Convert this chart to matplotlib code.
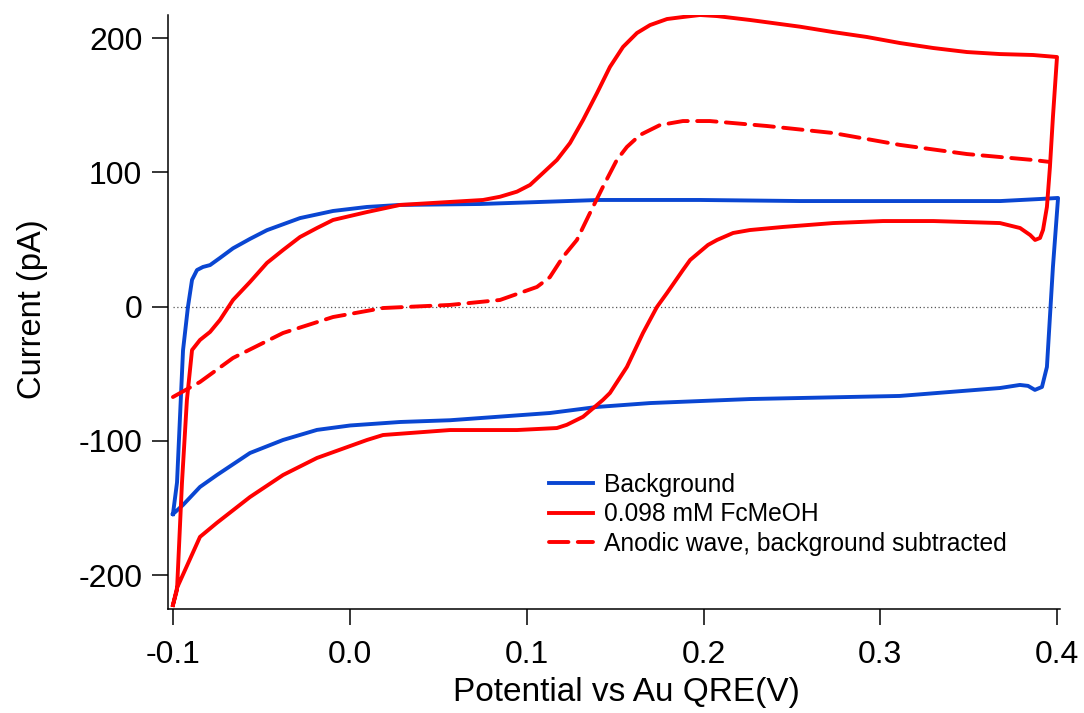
import numpy as np
import matplotlib
matplotlib.use('Agg')
import matplotlib.pyplot as plt

plt.rcParams['font.family'] = ['Liberation Sans', 'DejaVu Sans']
plt.rcParams['axes.unicode_minus'] = False

# background CV, forward (anodic) sweep  -- potential (V), current (pA)
bg_fwd_v = [-0.1003, -0.098, -0.0946, -0.0918, -0.0895, -0.0867, -0.0833, -0.0793, -0.0737,
            -0.0663, -0.0567, -0.0471, -0.0284, -0.0097, 0.0095, 0.0282, 0.0735, 0.141,
            0.198, 0.2545, 0.311, 0.368, 0.39, 0.4006]
bg_fwd_i = [-154.5, -131, -32.5, 0, 20, 27.3, 29.6, 31, 36.3,
            43.5, 50.5, 57, 66, 71.3, 74.3, 75.8, 76.5, 79.5,
            79.5, 78.7, 78.7, 78.7, 80.2, 81]
# background CV, reverse sweep
bg_rev_v = [0.4006, 0.3977, 0.396, 0.3943, 0.3915, 0.3875, 0.3836, 0.379, 0.3677, 0.311,
            0.2264, 0.1698, 0.1397, 0.1131, 0.0565, 0.0283, 0.0, -0.0188, -0.038,
            -0.0567, -0.0754, -0.085, -0.0946, -0.1003]
bg_rev_i = [81, 29.6, -7.6, -44.9, -59.8, -62, -59, -58.3, -60.6, -66.5,
            -68.8, -71.8, -74.7, -79.2, -84.6, -85.9, -88.5, -91.8, -99.3,
            -109, -125.4, -134.3, -147.7, -154.5]

# 0.098 mM FcMeOH, forward sweep
fc_fwd_v = [-0.1003, -0.098, -0.0952, -0.0924, -0.0895, -0.085, -0.0793, -0.0737, -0.0663,
            -0.0567, -0.0471, -0.038, -0.0284, -0.0188, -0.0097, 0.0095, 0.0282, 0.0752,
            0.0848, 0.0944, 0.1018, 0.1091, 0.117, 0.1244, 0.1318, 0.1397, 0.147, 0.1544,
            0.1623, 0.1697, 0.1793, 0.1883, 0.198, 0.2076, 0.2262, 0.2545, 0.2732, 0.2925,
            0.3112, 0.33, 0.3491, 0.3677, 0.3864, 0.4]
fc_fwd_i = [-222.3, -211, -131.3, -69.5, -32.3, -24.8, -18.8, -9.9, 5.0,
            18.4, 32.6, 42.2, 51.9, 58.6, 64.6, 70.5, 75.8, 79.5,
            81.9, 85.7, 90.7, 99.6, 109.3, 121.9, 139.1, 159.2, 178.6, 193.5,
            203.9, 209.8, 214.3, 215.8, 217.3, 216.5, 213.6, 208.6, 204.6, 200.9,
            196.4, 192.7, 189.7, 188.2, 187.5, 186]
# 0.098 mM FcMeOH, reverse sweep
fc_rev_v = [0.4, 0.3977, 0.396, 0.3943, 0.3921, 0.3904, 0.3876, 0.3848, 0.3791, 0.3677,
            0.33, 0.3016, 0.2733, 0.245, 0.2262, 0.2167, 0.2076, 0.2025, 0.1924, 0.1883,
            0.1793, 0.1736, 0.1657, 0.1566, 0.147, 0.143, 0.1318, 0.1226, 0.117, 0.0944,
            0.0565, 0.0186, 0.0095, -0.0188, -0.038, -0.0567, -0.0754, -0.085, -0.098,
            -0.1003]
fc_rev_i = [186, 141.3, 104, 74.3, 57.2, 51.2, 49.7, 53.4, 58.6, 62.3,
            63.8, 63.8, 62.3, 59.4, 57.1, 54.9, 49.7, 46, 34.8, 27.3,
            10.2, -0.2, -19.6, -44.9, -64.3, -69.5, -82, -88, -90.4, -91.9,
            -91.9, -95.6, -99.3, -112.7, -125.4, -141.8, -161, -171.5, -209.5,
            -222.2]

# anodic wave with background subtracted
sub_v = [-0.1003, -0.085, -0.0663, -0.038, -0.0097, 0.0186, 0.0565, 0.0848, 0.1057,
         0.113, 0.1204, 0.1283, 0.1357, 0.143, 0.1509, 0.1566, 0.164, 0.1753, 0.1883,
         0.2036, 0.2359, 0.2732, 0.3112, 0.3491, 0.3864, 0.396]
sub_i = [-67.3, -56.1, -38.2, -19.6, -7.7, -1.0, 1.3, 5.0, 14.7,
         22, 37, 49.7, 69.8, 89.2, 109.3, 119, 127.9, 135.3, 138.3,
         138.3, 134.6, 129.4, 120.5, 113.7, 109.3, 107.8]

labels = ['Background', '0.098 mM FcMeOH', 'Anodic wave, background subtracted']
xticks = [-0.1, 0.0, 0.1, 0.2, 0.3, 0.4]
yticks = [-200, -100, 0, 100, 200]

BLUE = '#0a46d2'
RED = '#ff0000'

fig = plt.figure(figsize=(10.84, 7.13), dpi=100)
ax = fig.add_axes([168/1084, 1 - 608.7/713, (1060 - 168)/1084, (608.7 - 15)/713])

ax.plot([-0.1, 0.4], [0, 0], ls=(0, (1, 2)), color='#555555', lw=0.9, zorder=1)

ax.plot(bg_fwd_v + bg_rev_v[1:], bg_fwd_i + bg_rev_i[1:], color=BLUE, lw=2.8,
        label=labels[0], solid_joinstyle='round')
ax.plot(fc_fwd_v + fc_rev_v[1:], fc_fwd_i + fc_rev_i[1:], color=RED, lw=2.8,
        label=labels[1], solid_joinstyle='round')
ax.plot(sub_v, sub_i, color=RED, lw=2.8, ls=(0, (5, 2.4)), label=labels[2],
        dash_capstyle='round')

ax.set_xlim(-0.1031, 0.4017)
ax.set_ylim(-225, 217.3)

ax.spines['top'].set_visible(False)
ax.spines['right'].set_visible(False)
for s in ['left', 'bottom']:
    ax.spines[s].set_linewidth(1.1)

ax.set_xticks(xticks)
ax.set_xticklabels(['%.1f' % t for t in xticks])
ax.set_yticks(yticks)
ax.set_yticklabels(['%d' % t for t in yticks])
ax.tick_params(axis='both', direction='out', length=11.5, width=1.1, labelsize=23)
ax.tick_params(axis='x', pad=11)
ax.tick_params(axis='y', pad=7)

ax.set_xlabel('Potential vs Au QRE(V)', fontsize=24)
ax.set_ylabel('Current (pA)', fontsize=23.5)
ax.xaxis.set_label_coords(0.5 + (626 - 614)/892, (608.7 - 677)/593.7)
ax.yaxis.set_label_coords((48 - 168)/892, (608.7 - 309)/593.7)

leg = ax.legend(loc='upper left', bbox_to_anchor=(549/1084, 1 - 473/713),
                bbox_transform=fig.transFigure, frameon=False, fontsize=17.7,
                handlelength=1.8, handletextpad=0.45, labelspacing=0.22,
                borderpad=0, borderaxespad=0)

fig.savefig('out.png', dpi=100)
